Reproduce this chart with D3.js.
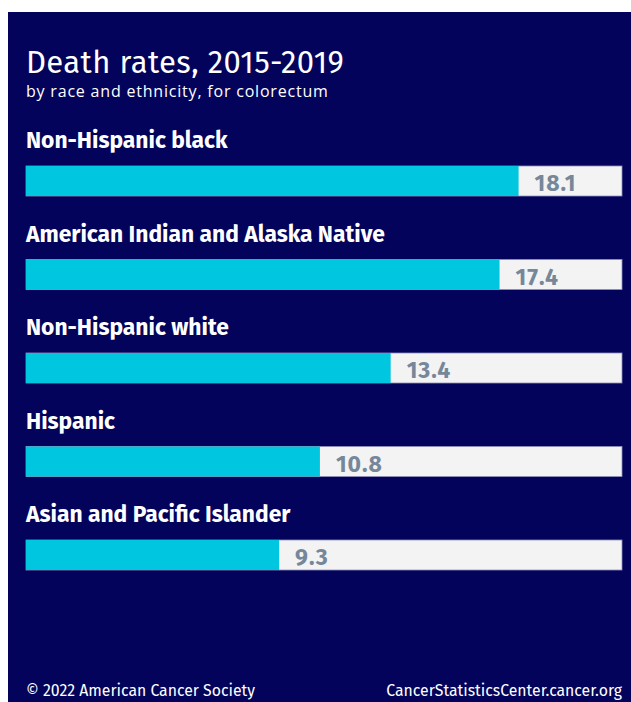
<!DOCTYPE html>
<html>
<head>
<meta charset="utf-8">
<script src="https://cdn.jsdelivr.net/npm/d3@7"></script>
<style>
  body { margin: 0; background: #fff; }
  svg { display: block; }
</style>
</head>
<body>
<script>
// data
var groups = ["Non-Hispanic black", "American Indian and Alaska Native", "Non-Hispanic white", "Hispanic", "Asian and Pacific Islander"];
var rates = [18.1, 17.4, 13.4, 10.8, 9.3];

var W = 631, H = 702;

var svg = d3.select("body").append("svg")
    .attr("width", W)
    .attr("height", H);

// navy panel
svg.append("rect")
    .attr("x", 8).attr("y", 12)
    .attr("width", W - 8).attr("height", H - 12)
    .attr("fill", "#03035b");

var font = "'Fira Sans', 'Open Sans', 'Noto Sans', sans-serif";

svg.append("text")
    .attr("x", 26).attr("y", 73)
    .attr("fill", "#fff")
    .style("font-family", font)
    .style("font-size", "31px")
    .style("letter-spacing", "0.4px")
    .text("Death rates, 2015-2019");

svg.append("text")
    .attr("x", 26).attr("y", 97)
    .attr("fill", "#fff")
    .style("font-family", "'Open Sans', sans-serif")
    .style("font-size", "16px")
    .style("letter-spacing", "0.8px")
    .text("by race and ethnicity, for colorectum");

// scales
var x = d3.scaleLinear()
    .domain([0, 21.9])
    .range([26, 622]);

var y = d3.scaleBand()
    .domain(groups)
    .range([166, 166 + 93.5 * groups.length]);

var rows = svg.selectAll(".row")
    .data(groups)
    .enter().append("g")
    .attr("class", "row")
    .attr("transform", function (d) { return "translate(0," + y(d) + ")"; });

rows.append("text")
    .attr("x", 26).attr("y", -18)
    .attr("fill", "#fff")
    .style("font-family", font)
    .style("font-size", "22.8px")
    .style("font-weight", "bold")
    .text(function (d) { return d; });

// grey track
rows.append("rect")
    .attr("x", x(0)).attr("y", 0)
    .attr("width", x.range()[1] - x(0))
    .attr("height", 30)
    .attr("fill", "#f3f3f3")
    .attr("stroke", "#8f8fba")
    .attr("stroke-width", 0.8);

// cyan bar
rows.append("rect")
    .attr("x", x(0)).attr("y", 0)
    .attr("width", function (d, i) { return x(rates[i]) - x(0); })
    .attr("height", 30)
    .attr("fill", "#00c6e0");

rows.append("text")
    .attr("x", function (d, i) { return x(rates[i]) + 16; })
    .attr("y", 25)
    .attr("fill", "#76879a")
    .style("font-family", font)
    .style("font-size", "23px")
    .style("font-weight", "bold")
    .style("letter-spacing", "1px")
    .text(function (d, i) { return rates[i].toFixed(1); });

// footer
svg.append("text")
    .attr("x", 26).attr("y", 696)
    .attr("fill", "#fff")
    .style("font-family", font)
    .style("font-size", "15.8px")
    .text("\u00a9 2022 American Cancer Society");

svg.append("text")
    .attr("x", 622).attr("y", 696)
    .attr("text-anchor", "end")
    .attr("fill", "#fff")
    .style("font-family", font)
    .style("font-size", "15.8px")
    .text("CancerStatisticsCenter.cancer.org");
</script>
</body>
</html>
